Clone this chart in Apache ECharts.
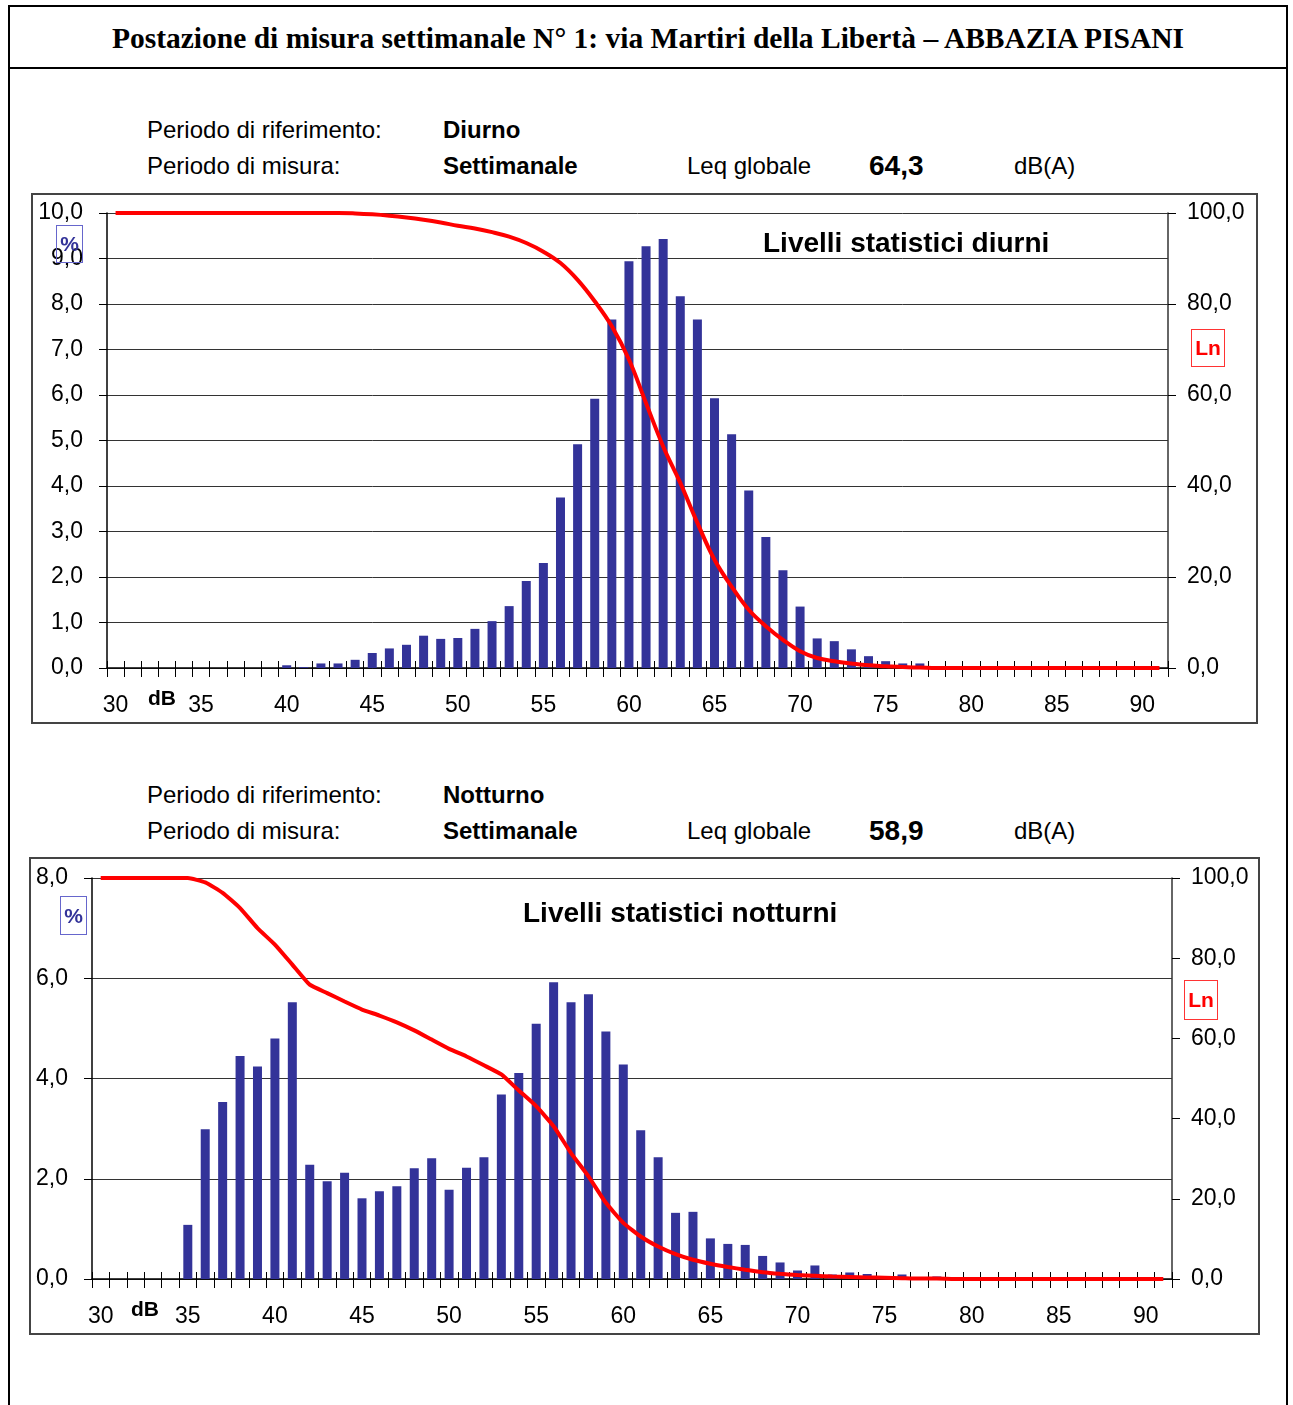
<!DOCTYPE html>
<html>
<head>
<meta charset="utf-8">
<script src="https://cdn.jsdelivr.net/npm/echarts@6/dist/echarts.min.js"></script>
<style>
  body { margin: 0; background: #fff; }
  #page { position: relative; width: 1293px; height: 1405px; overflow: hidden; font-family: "Liberation Sans", Arial, sans-serif; color: #000; }
  .abs { position: absolute; white-space: nowrap; }
  .frame { position: absolute; box-sizing: border-box; border: 2px solid #444; pointer-events: none; }
  .lab { font-size: 24px; line-height: 24px; }
  .b { font-weight: bold; }
  .pct { position: absolute; box-sizing: border-box; border: 1px solid #6666cc; color: #333399; font-weight: bold; font-size: 21px; text-align: center; }
  .ln { position: absolute; box-sizing: border-box; border: 1px solid #ff3333; color: #ff0000; font-weight: bold; font-size: 21px; text-align: center; }
</style>
</head>
<body>
<div id="page">
  <div class="abs" style="left:8px;top:5px;width:1280px;height:1420px;box-sizing:border-box;border:2px solid #000;"></div>
  <div class="abs" style="left:8px;top:67px;width:1280px;height:2px;background:#000;"></div>
  <div class="abs b" style="left:8px;top:21px;width:1280px;text-align:center;font-family:'Liberation Serif','Times New Roman',serif;font-size:29.5px;line-height:34px;">Postazione di misura settimanale N° 1: via Martiri della Libertà – ABBAZIA PISANI</div>

  <div class="abs lab" style="left:147px;top:118px;">Periodo di riferimento:</div>
  <div class="abs lab b" style="left:443px;top:118px;">Diurno</div>
  <div class="abs lab" style="left:147px;top:154px;">Periodo di misura:</div>
  <div class="abs lab b" style="left:443px;top:154px;">Settimanale</div>
  <div class="abs lab" style="left:687px;top:154px;">Leq globale</div>
  <div class="abs b" style="left:869px;top:152px;font-size:28px;line-height:28px;">64,3</div>
  <div class="abs lab" style="left:1014px;top:154px;">dB(A)</div>

  <div id="c1" class="abs" style="left:31px;top:193px;width:1227px;height:531px;"></div>
  <div class="frame" style="left:31px;top:193px;width:1227px;height:531px;"></div>
  <div class="abs b" style="left:763px;top:228px;font-size:28px;line-height:30px;">Livelli statistici diurni</div>
  <div class="pct" style="left:56px;top:225px;width:27px;height:38px;line-height:36px;">%</div>
  <div class="ln" style="left:1191px;top:329px;width:34px;height:38px;line-height:36px;">Ln</div>
  <div class="abs b" style="left:148px;top:687px;font-size:21px;line-height:21px;">dB</div>

  <div class="abs lab" style="left:147px;top:783px;">Periodo di riferimento:</div>
  <div class="abs lab b" style="left:443px;top:783px;">Notturno</div>
  <div class="abs lab" style="left:147px;top:819px;">Periodo di misura:</div>
  <div class="abs lab b" style="left:443px;top:819px;">Settimanale</div>
  <div class="abs lab" style="left:687px;top:819px;">Leq globale</div>
  <div class="abs b" style="left:869px;top:817px;font-size:28px;line-height:28px;">58,9</div>
  <div class="abs lab" style="left:1014px;top:819px;">dB(A)</div>

  <div id="c2" class="abs" style="left:29px;top:857px;width:1231px;height:478px;"></div>
  <div class="frame" style="left:29px;top:857px;width:1231px;height:478px;"></div>
  <div class="abs b" style="left:523px;top:898px;font-size:28px;line-height:30px;">Livelli statistici notturni</div>
  <div class="pct" style="left:60px;top:896px;width:27px;height:39px;line-height:37px;">%</div>
  <div class="ln" style="left:1184px;top:980px;width:34px;height:40px;line-height:38px;">Ln</div>
  <div class="abs b" style="left:131px;top:1298px;font-size:21px;line-height:21px;">dB</div>
</div>

<script>
// livelli in dB (classi da 1 dB)
var categories = ['30','31','32','33','34','35','36','37','38','39',
  '40','41','42','43','44','45','46','47','48','49',
  '50','51','52','53','54','55','56','57','58','59',
  '60','61','62','63','64','65','66','67','68','69',
  '70','71','72','73','74','75','76','77','78','79',
  '80','81','82','83','84','85','86','87','88','89',
  '90','91'];

// distribuzione % diurna
var dayPct = [0,0,0,0,0,0,0,0,0,0,
  0.06,0.02,0.10,0.10,0.18,0.33,0.43,0.51,0.71,0.64,
  0.66,0.86,1.03,1.36,1.91,2.31,3.75,4.92,5.92,7.66,
  8.94,9.27,9.43,8.17,7.66,5.93,5.14,3.90,2.88,2.15,
  1.35,0.65,0.59,0.41,0.26,0.15,0.10,0.10,0.02,0,
  0,0,0,0,0,0,0,0,0,0,
  0,0];

// Ln diurno (%)
var dayLn = [100,100,100,100,100,100,100,100,100,100,
  100,100,100,100,99.9,99.7,99.4,99.0,98.5,97.9,
  97.2,96.6,95.8,94.8,93.4,91.5,89.0,85.3,80.6,75.1,
  67.8,58.2,48.7,40.7,31.9,23.8,17.9,12.8,9.2,6.2,
  3.7,2.2,1.5,1.0,0.6,0.4,0.2,0.1,0,0,
  0,0,0,0,0,0,0,0,0,0,
  0,0];

// distribuzione % notturna
var nightPct = [0,0,0,0,0,1.08,2.99,3.53,4.45,4.24,
  4.80,5.52,2.28,1.95,2.12,1.61,1.75,1.85,2.21,2.41,
  1.78,2.22,2.43,3.68,4.11,5.09,5.92,5.52,5.68,4.94,
  4.28,2.97,2.43,1.32,1.34,0.81,0.70,0.68,0.46,0.33,
  0.17,0.27,0.09,0.13,0.10,0.03,0.09,0,0.05,0,
  0,0,0,0,0,0,0,0,0,0,
  0,0];

// Ln notturno (%)
var nightLn = [100,100,100,100,100,100,98.9,96.3,92.5,87.5,
  83.4,78.4,73.4,71.3,69.2,67.2,65.7,64.0,62.0,59.7,
  57.4,55.5,53.3,51.0,47.0,43.1,38.1,31.4,25.6,19.0,
  14.0,10.6,8.1,6.2,4.8,3.8,3.0,2.3,1.7,1.3,
  1.0,0.8,0.6,0.5,0.4,0.3,0.2,0.1,0.1,0,
  0,0,0,0,0,0,0,0,0,0,
  0,0];

var FONT = '"Liberation Sans", Arial, sans-serif'
var comma = function (v) { return v.toFixed(1).replace('.', ',') }

function makeOption(cfg) {
    return {
        animation: false,
        grid: cfg.grid,
        xAxis: [{
            type: 'category',
            data: categories,
            boundaryGap: true,
            axisLine: { show: true, lineStyle: { color: '#000', width: 1.5 } },
            axisTick: { show: true, interval: 0, length: 9, lineStyle: { color: '#000', width: 1 } },
            axisLabel: { interval: 4, margin: 26, fontSize: 23, color: '#000', fontFamily: FONT }
        }, {
            type: 'category',
            data: categories,
            position: 'bottom',
            boundaryGap: true,
            axisLine: { show: false },
            axisTick: { show: true, interval: 0, inside: true, length: 7, lineStyle: { color: '#000', width: 1 } },
            axisLabel: { show: false }
        }],
        yAxis: [{
            type: 'value',
            min: 0,
            max: cfg.leftMax,
            interval: cfg.leftStep,
            axisLine: { show: true, lineStyle: { color: '#000', width: 1.5 } },
            axisTick: { show: true, length: 8, lineStyle: { color: '#000' } },
            splitLine: { lineStyle: { color: '#333', width: 1 } },
            axisLabel: { margin: 24, fontSize: 23, color: '#000', fontFamily: FONT, formatter: comma }
        }, {
            type: 'value',
            min: 0,
            max: 100,
            interval: 20,
            position: 'right',
            axisLine: { show: true, lineStyle: { color: '#333', width: 1.5 } },
            axisTick: { show: true, length: 8, lineStyle: { color: '#000' } },
            splitLine: { show: false },
            axisLabel: { margin: 19, fontSize: 23, color: '#000', fontFamily: FONT, formatter: comma }
        }],
        series: [{
            type: 'bar',
            data: cfg.bars,
            barWidth: 9,
            itemStyle: { color: '#333399' }
        }, {
            type: 'line',
            yAxisIndex: 1,
            data: cfg.line,
            symbol: 'none',
            smooth: cfg.smooth,
            lineStyle: { color: '#ff0000', width: 4 },
            z: 5
        }]
    }
}

var chart1 = echarts.init(document.getElementById('c1'))
chart1.setOption(makeOption({
    grid: { left: 76, right: 90, top: 20, bottom: 56 },
    leftMax: 10, leftStep: 1,
    bars: dayPct, line: dayLn, smooth: 0.4
}))

var chart2 = echarts.init(document.getElementById('c2'))
chart2.setOption(makeOption({
    grid: { left: 63, right: 88, top: 21, bottom: 56 },
    leftMax: 8, leftStep: 2,
    bars: nightPct, line: nightLn, smooth: 0.15
}))
</script>
</body>
</html>
